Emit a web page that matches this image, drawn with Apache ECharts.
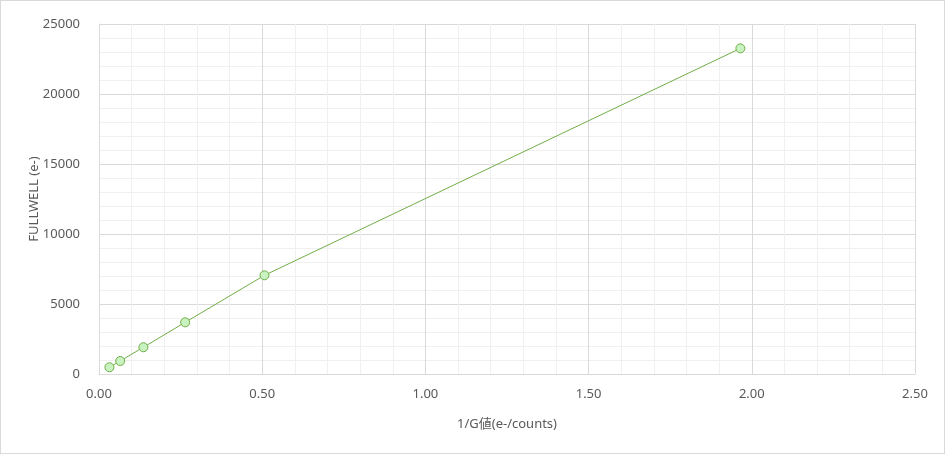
<!DOCTYPE html>
<html>
<head>
<meta charset="utf-8">
<script src="https://cdn.jsdelivr.net/npm/echarts@6/dist/echarts.min.js"></script>
<style>
	html, body { margin: 0; padding: 0; background: #fff; }
	#chart { width: 943px; height: 452px; border: 1px solid #d9d9d9; }
</style>
</head>
<body>
<div id="chart"></div>
<script>
// 1/G value (e-/counts) vs full well (e-)
const gainInv = [0.032, 0.065, 0.136, 0.264, 0.507, 1.965]
const fullWell = [480, 930, 1910, 3690, 7050, 23260]

const xName = '1/G値(e-/counts)'
const yName = 'FULLWELL (e-)'

const textColor = '#595959'
const fontFamily = "'Segoe UI', 'Noto Sans', 'Noto Sans CJK JP', sans-serif"

const chart = echarts.init(document.getElementById('chart'))

const option = {
	animation: false,
	textStyle: { fontFamily: fontFamily },
	grid: { left: 98, right: 29, top: 23, bottom: 79 },
	xAxis: {
		type: 'value',
		min: 0,
		max: 2.5,
		interval: 0.5,
		name: xName,
		nameLocation: 'middle',
		nameGap: 44,
		nameMoveOverlap: false,
		nameTextStyle: { color: textColor, fontSize: 13, fontFamily: fontFamily },
		axisLine: { show: true, lineStyle: { color: '#d9d9d9' } },
		axisTick: { show: false },
		axisLabel: {
			color: textColor,
			fontSize: 13,
			margin: 14,
			formatter: v => v.toFixed(2),
		},
		splitLine: { show: true, lineStyle: { color: '#d9d9d9' } },
		minorTick: { show: false, splitNumber: 5 },
		minorSplitLine: { show: true, lineStyle: { color: '#f0f0f0' } },
	},
	yAxis: {
		type: 'value',
		min: 0,
		max: 25000,
		interval: 5000,
		name: yName,
		nameLocation: 'middle',
		nameGap: 58,
		nameMoveOverlap: false,
		nameTextStyle: { color: textColor, fontSize: 13, fontFamily: fontFamily },
		axisLine: { show: true, lineStyle: { color: '#d9d9d9' } },
		axisTick: { show: false },
		axisLabel: { color: textColor, fontSize: 13, margin: 19, formatter: v => String(v) },
		splitLine: { show: true, lineStyle: { color: '#d9d9d9' } },
		minorTick: { show: false, splitNumber: 5 },
		minorSplitLine: { show: true, lineStyle: { color: '#f0f0f0' } },
	},
	series: [
		{
			type: 'line',
			data: gainInv.map((x, i) => [x, fullWell[i]]),
			symbol: 'circle',
			symbolSize: 9,
			lineStyle: { color: '#70ad47', width: 1 },
			itemStyle: { color: '#c8f2c0', borderColor: '#70ad47', borderWidth: 1 },
		},
	],
}

chart.setOption(option)
</script>
</body>
</html>
